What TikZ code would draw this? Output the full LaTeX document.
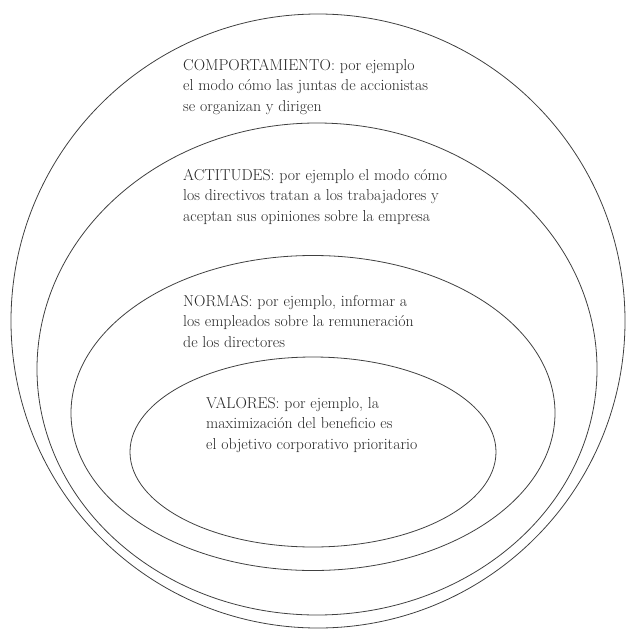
\documentclass[tikz,border=0pt]{standalone}
\usepackage{fontspec}
\usepackage{tikz}
\usetikzlibrary{shapes.geometric,positioning}

\begin{document}
\begin{tikzpicture}[x = 1pt, y = -1pt]
	\tikzstyle{every node} = [inner sep = 0pt]
	\tikzstyle{ring} = [ellipse, draw = black!75, line width = 0.8pt]
	\tikzstyle{txt} = [align = left, anchor = north west, text = black!85, font = \fontsize{15.8}{20.5}\selectfont]
	\useasboundingbox (0, 0) rectangle (625, 629);

\node[ring, minimum width = 614pt, minimum height = 614pt] (comp) at (318, 321) {};
\node[ring, minimum width = 560pt, minimum height = 492pt] (act) at (317, 369) {};
\node[ring, minimum width = 484pt, minimum height = 315pt] (norm) at (313, 413) {};
\node[ring, minimum width = 366pt, minimum height = 190pt] (val) at (313, 452) {};

\node[txt] (tcomp) at (183, 59) {COMPORTAMIENTO: por ejemplo\\el modo cómo las juntas de accionistas\\se organizan y dirigen};
\node[txt] (tact) at (183, 169) {ACTITUDES: por ejemplo el modo cómo\\los directivos tratan a los trabajadores y\\aceptan sus opiniones sobre la empresa};
\node[txt] (tnorm) at (183, 295) {NORMAS: por ejemplo, informar a\\los empleados sobre la remuneración\\de los directores};
\node[txt] (tval) at (206, 397) {VALORES: por ejemplo, la\\maximización del beneficio es\\el objetivo corporativo prioritario};
	\end{tikzpicture}
\end{document}
